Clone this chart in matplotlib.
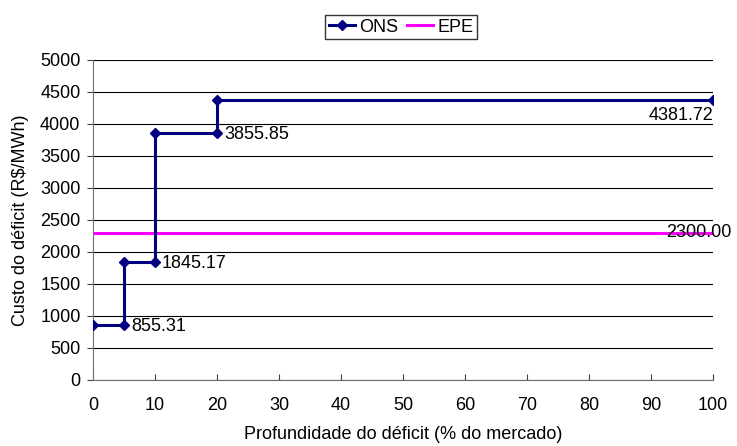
import matplotlib
matplotlib.use("Agg")
import matplotlib.pyplot as plt

plt.rcParams['font.family'] = ['Liberation Sans', 'DejaVu Sans']

ons_x = [0, 5, 5, 10, 10, 20, 20, 100]
ons_y = [855.31, 855.31, 1845.17, 1845.17, 3855.85, 3855.85, 4381.72, 4381.72]
epe_x = [0, 100]
epe_y = [2300.00, 2300.00]
label_pts = [(5, 855.31), (10, 1845.17), (20, 3855.85)]
end_label_ons = (100, 4381.72)
end_label_epe = (100, 2300.00)

fig = plt.figure(figsize=(7.37, 4.46), dpi=100)
ax = fig.add_axes([93/737, 1-380/446, 620/737, 320/446])

ax.plot(ons_x, ons_y, color='#000080', lw=2.2, marker='D', ms=5, label='ONS', zorder=3)
ax.plot(epe_x, epe_y, color='#FF00FF', lw=2.2, label='EPE', zorder=2)

fs = 13
for x, y in label_pts:
    ax.annotate(f"{y:.2f}", (x, y), xytext=(5, -1), textcoords='offset points',
                ha='left', va='center', fontsize=fs)
ax.annotate(f"{end_label_ons[1]:.2f}", end_label_ons, xytext=(0, -5), textcoords='offset points',
            ha='right', va='top', fontsize=fs)
ax.annotate(f"{end_label_epe[1]:.2f}", end_label_epe, xytext=(-34, 0), textcoords='offset points',
            ha='left', va='center', fontsize=fs, annotation_clip=False)

ax.set_xlim(0, 100)
ax.set_ylim(0, 5000)
ax.set_xticks(range(0, 101, 10))
ax.set_yticks(range(0, 5001, 500))
ax.tick_params(axis='x', labelsize=fs, length=4, direction='in', color='#404040', pad=12)
ax.tick_params(axis='y', labelsize=fs, length=4, direction='out', color='#404040', pad=5)
ax.yaxis.grid(True, color='black', lw=0.8)
ax.set_axisbelow(True)
for s in ['top', 'right']:
    ax.spines[s].set_visible(False)
for s in ['left', 'bottom']:
    ax.spines[s].set_color('#707070')

ax.set_xlabel('Profundidade do déficit (% do mercado)', fontsize=fs, labelpad=9)
ax.set_ylabel('Custo do déficit (R$/MWh)', fontsize=fs, labelpad=8)

leg = ax.legend(loc='upper center', bbox_to_anchor=(0.497, 1.14), ncol=2, frameon=True,
                fontsize=fs, fancybox=False, edgecolor='black', handlelength=1.45,
                borderpad=0.2, columnspacing=0.45, handletextpad=0.25, borderaxespad=0)
leg.get_frame().set_linewidth(1.0)

fig.savefig('out.png', dpi=100)
